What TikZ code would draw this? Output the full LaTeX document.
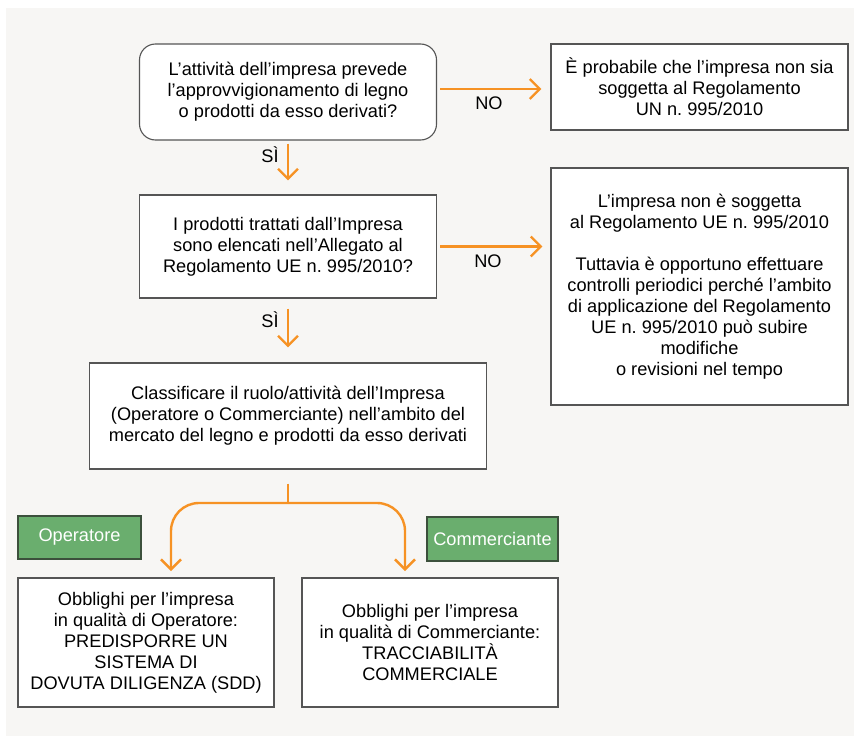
\documentclass[tikz,border=0pt]{standalone}
\usepackage{fontspec}
\setmainfont{Liberation Sans}
\usetikzlibrary{arrows.meta}
\frenchspacing

\definecolor{bggray}{RGB}{247,246,244}
\definecolor{boxgray}{RGB}{85,85,85}
\definecolor{arrorange}{RGB}{246,146,36}
\definecolor{taggreen}{RGB}{106,174,110}
\definecolor{tagline}{RGB}{60,80,60}

\tikzset{
  box/.style={draw=boxgray, line width=1.1pt, fill=white, align=center, inner sep=0pt},
  tag/.style={draw=tagline, line width=1.1pt, fill=taggreen, text=white, inner sep=0pt},
  arr/.style={draw=arrorange, line width=2.4pt, -{Straight Barb[length=10pt,width=20pt]}},
  link/.style={draw=arrorange, line width=2.4pt},
}

\begin{document}
\begin{tikzpicture}[x=1pt,y=-1pt,font=\fontsize{18.2}{21}\selectfont]
\useasboundingbox (0,0) rectangle (854,736);
\fill[bggray] (6,8) rectangle (854,736);

% questions
\node[box, rounded corners=16pt, minimum width=297pt, minimum height=96pt] (q1) at (288,92)
  {L’attività dell’impresa prevede\\l’approvvigionamento di legno\\o prodotti da esso derivati?};
\node[box, minimum width=297pt, minimum height=103pt] (q2) at (288,246.5)
  {I prodotti trattati dall’Impresa\\sono elencati nell’Allegato al\\Regolamento UE n. 995/2010?};
\node[box, minimum width=397pt, minimum height=106pt] (q3) at (288,416)
  {Classificare il ruolo/attività dell’Impresa\\(Operatore o Commerciante) nell’ambito del\\mercato del legno e prodotti da esso derivati};

% answers NO
\node[box, minimum width=297pt, minimum height=86pt] (n1) at (699.5,87)
  {È probabile che l’impresa non sia\\soggetta al Regolamento\\UN n. 995/2010};
\node[box, minimum width=297pt, minimum height=237pt] (n2) at (699.5,286.5)
  {L’impresa non è soggetta\\al Regolamento UE n. 995/2010\\[21pt]Tuttavia è opportuno effettuare\\controlli periodici perché l’ambito\\di applicazione del Regolamento\\UE n. 995/2010 può subire\\modifiche\\o revisioni nel tempo};

% roles
\node[tag, minimum width=123pt, minimum height=43pt] (op) at (79.5,537.5) {Operatore};
\node[tag, minimum width=131pt, minimum height=44pt] (com) at (492.5,539) {Commerciante};
\node[box, minimum width=256pt, minimum height=129pt] (ob1) at (146,642.5)
  {Obblighi per l’impresa\\in qualità di Operatore:\\PREDISPORRE UN\\SISTEMA DI\\DOVUTA DILIGENZA (SDD)};
\node[box, minimum width=256pt, minimum height=129pt] (ob2) at (430,642.5)
  {Obblighi per l’impresa\\in qualità di Commerciante:\\TRACCIABILITÀ\\COMMERCIALE};

% labels
\node (no1) at (489,103) {NO};
\node (no2) at (488,261) {NO};
\node (si1) at (270,155) {SÌ};
\node (si2) at (270,320) {SÌ};

% arrows
\draw[arr, shorten <=3pt, shorten >=9pt] ([yshift=3pt]q1.east) -- ([yshift=3pt]q1.east -| n1.west);
\draw[arr, shorten <=3pt, shorten >=8pt] (q2.east) -- (q2.east -| n2.west);
\draw[arr, shorten <=3pt, shorten >=14pt] (q1.south) -- (q2.north);
\draw[arr, shorten <=10pt, shorten >=15pt] (q2.south) -- (q3.north);

\coordinate (fork) at (288,503);
\coordinate (opin) at (171,578);
\coordinate (comin) at (405,578);
\draw[link, shorten <=14pt] (q3.south) -- (fork);
\draw[arr, rounded corners=28pt, shorten >=7pt] (fork) -| (opin);
\draw[arr, rounded corners=28pt, shorten >=7pt] (fork) -| (comin);

\end{tikzpicture}
\end{document}
